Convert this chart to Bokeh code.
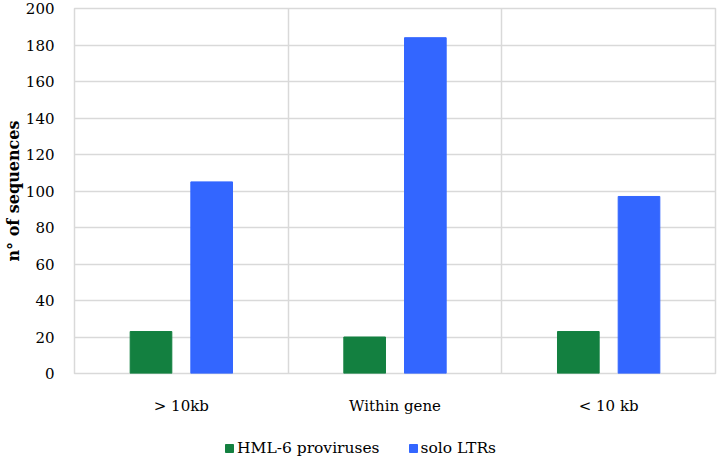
from bokeh.plotting import figure
from bokeh.layouts import column
from bokeh.models import Range1d, FixedTicker, Legend, LegendItem, ColumnDataSource
from bokeh.embed import file_html
from bokeh.resources import INLINE

categories = ["> 10kb", "Within gene", "< 10 kb"]
hml6 = [23, 20, 23]
solo = [105, 184, 97]
y_ticks = [0, 20, 40, 60, 80, 100, 120, 140, 160, 180, 200]
series_names = ["HML-6 proviruses", "solo LTRs"]

FONT = "DejaVu Serif"
GRID = "#d9d9d9"
GREEN = "#138040"
BLUE = "#3366ff"

centers = [i + 0.5 for i in range(len(categories))]
src = ColumnDataSource(dict(
    xg=[c - 0.142 for c in centers],
    xb=[c + 0.142 for c in centers],
    hml6=hml6, solo=solo,
))

p = figure(width=717, height=428, output_backend="svg", toolbar_location=None,
           x_range=Range1d(0, len(categories)), y_range=Range1d(0, 200),
           min_border_left=67, min_border_right=2, min_border_top=8, min_border_bottom=55)

p.vbar(x="xg", top="hml6", width=0.195, source=src, fill_color=GREEN, line_color=GREEN)
p.vbar(x="xb", top="solo", width=0.195, source=src, fill_color=BLUE, line_color=BLUE)

p.outline_line_color = GRID
p.outline_line_width = 1.5
p.xgrid.ticker = FixedTicker(ticks=[0, 1, 2, 3])
p.ygrid.ticker = FixedTicker(ticks=y_ticks)
for g in (p.xgrid[0], p.ygrid[0]):
    g.grid_line_color = GRID
    g.grid_line_width = 1.5

p.xaxis.ticker = FixedTicker(ticks=centers)
p.xaxis.major_label_overrides = {c: lab for c, lab in zip(centers, categories)}
p.yaxis.ticker = FixedTicker(ticks=y_ticks)
for ax in (p.xaxis[0], p.yaxis[0]):
    ax.axis_line_color = None
    ax.major_tick_line_color = None
    ax.minor_tick_line_color = None
    ax.major_label_text_font = FONT
    ax.major_label_text_font_size = "15px"
    ax.major_label_text_color = "#000000"
p.xaxis.major_label_standoff = 17
p.yaxis.major_label_standoff = 14
p.yaxis.axis_label = "n° of sequences"
p.yaxis.axis_label_text_font = FONT
p.yaxis.axis_label_text_font_style = "bold"
p.yaxis.axis_label_text_font_size = "16px"
p.yaxis.axis_label_text_color = "#000000"
p.yaxis.axis_label_standoff = 0

# legend strip below the chart
lg = figure(width=717, height=30, output_backend="svg", toolbar_location=None,
            x_range=Range1d(0, 717), y_range=Range1d(0, 30), min_border=0,
            x_axis_location=None, y_axis_location=None)
lg.grid.visible = False
lg.outline_line_color = None
r1 = lg.vbar(x=[-5000], top=[0], width=0.1, fill_color=GREEN, line_color=GREEN)
r2 = lg.vbar(x=[-5000], top=[0], width=0.1, fill_color=BLUE, line_color=BLUE)
legend = Legend(items=[LegendItem(label=series_names[0], renderers=[r1]),
                       LegendItem(label=series_names[1], renderers=[r2])],
                orientation="horizontal", location=(150, 1),
                label_text_font=FONT, label_text_font_size="15.5px",
                label_text_color="#000000",
                glyph_width=10, glyph_height=10, label_standoff=3, spacing=28,
                border_line_color=None, background_fill_alpha=0, margin=0, padding=0)
lg.add_layout(legend, "center")

open("out.html", "w").write(file_html(column(p, lg), INLINE))
